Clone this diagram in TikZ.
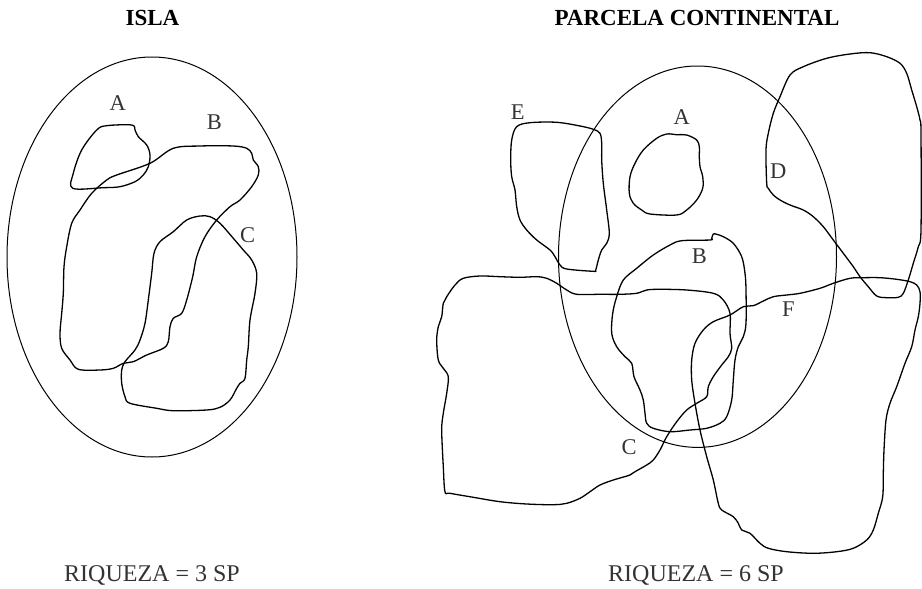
\documentclass[tikz,border=0pt]{standalone}
\usepackage{fontspec}
\setmainfont{Liberation Serif}
\begin{document}
\begin{tikzpicture}[x=1pt,y=-1pt,
  region/.style={line width=1.3pt, line join=round, smooth cycle, tension=0.55},
  border/.style={line width=1pt},
  lbl/.style={font=\fontsize{22.5}{22.5}\selectfont, text=black!80, inner sep=0pt},
  heading/.style={font=\fontsize{23}{23}\selectfont\bfseries, inner sep=0pt},
  wealth/.style={font=\fontsize{24}{24}\selectfont, text=black!80, inner sep=0pt},
]
\useasboundingbox (0,0) rectangle (922,589);

% ---------------- Island ----------------
\node[heading] (islaT) at (152.5,18) {ISLA};
\draw[border] (152,257) ellipse [x radius=145pt, y radius=200pt];

% species A
\draw[region] plot coordinates {(72.7,188.3) (73.3,173.3) (81.7,150) (96.7,130) (106.7,125.7) (131.7,125) (135,130) (138.3,136.7) (146.7,145) (150,155) (148.3,166.7) (143.3,175) (135,181.7) (120,186.7) (103.3,187.7)};
% species B
\draw[region] plot coordinates {(78.3,369.3) (70,360) (61.7,348.3) (60,333.3) (61.7,313.3) (63.3,293.3) (64,266.7) (66.7,246.7) (71.7,223.3) (80,210) (91.7,193.3) (106.7,180) (116.7,175) (150,163.3) (173.3,148.3) (200,146) (233.3,146) (246.7,148.3) (251.7,153.3) (253.3,160) (258.3,166.7) (258.3,175) (251.7,186.7) (240,200) (230,206.7) (216.7,220) (205,236.7) (196.7,256.7) (192.7,276.7) (186.7,300) (181.7,313.3) (173.3,318.3) (170,326.7) (168.3,341.7) (163.3,348.3) (146.7,355) (133.3,361.7) (123.3,363.3) (113.3,368.3) (100,370)};
% species C
\draw[region] plot coordinates {(200,216) (186.7,220) (173.3,231.7) (160,241.7) (154,253.3) (151.7,273.3) (148.3,300) (145,323.3) (140,340) (135,350) (125,361.7) (121.7,370) (121.7,383.3) (125,396.7) (130,403.3) (156.7,408.3) (173.3,410.7) (206.7,410) (220,407.3) (230,400) (236.7,388.3) (240,383.3) (245,378.3) (246.7,360) (248.3,346.7) (250,320) (255,293.3) (256.7,273.3) (251.7,260) (243.3,250) (233.3,238.3) (220,223.3) (210,216.7)};

\node[lbl] (iA) at (117.7,103.3) {A};
\node[lbl] (iB) at (214.3,121.7) {B};
\node[lbl] (iC) at (247.7,235) {C};

\node[wealth] (islaR) at (152,575) {RIQUEZA = 3 SP};

% ---------------- Mainland plot ----------------
\node[heading] (contT) at (697,18) {PARCELA CONTINENTAL};
\draw[border] (697.5,256.7) ellipse [x radius=139pt, y radius=190.7pt];

% species A
\draw[region] plot coordinates {(666.7,134) (656.7,138.3) (643.3,150) (635,163.3) (630,176.7) (629.3,193.3) (633.3,203.3) (641.7,210) (650,214) (676.7,215) (686.7,210) (696.7,200) (702.7,188.3) (702.7,176.7) (700,166.7) (699.3,156.7) (699.3,146.7) (696.7,140) (686.7,135) (676.7,134.7)};
% species B
\draw[region] plot coordinates {(713.3,234) (711.7,238.3) (710,240) (681.7,240.7) (670,245) (653.3,255) (636.7,268.3) (623.3,280) (616.7,296.7) (612.7,313.3) (611.7,333.3) (616.7,346.7) (625,356.7) (631.7,363.3) (634,376.7) (640,390) (643.3,400) (645,413.3) (646.7,423.3) (653.3,428.3) (670,431.7) (690,430) (706.7,428.3) (720,423.3) (726.7,416.7) (731.7,400) (733.3,380) (735,360) (738.3,346.7) (743.3,336.7) (746,323.3) (746,290) (745,273.3) (741.7,256.7) (733.3,243.3) (723.3,236.7) (716.7,234.3)};
% species C
\draw[region] plot coordinates {(445,491.7) (443.3,466.7) (441.7,430) (443.3,413.3) (446.7,393.3) (448.3,376.7) (443.3,368.3) (438.3,360) (436.7,340) (438.3,326.7) (441.7,316.7) (443.3,303.3) (446.7,296.7) (455,285) (463.3,278.3) (480,276) (500,276.7) (520,277.3) (536.7,276.7) (546.7,278.3) (556.7,283.3) (566.7,290) (576.7,294.3) (600,294.3) (620,294.3) (636.7,293.3) (646.7,290) (660,289.3) (686.7,290) (713.3,293.3) (723.3,300) (730,313.3) (730,333.3) (731.7,348.3) (728.3,356.7) (721.7,365) (713.3,376.7) (708.3,386.7) (706.7,396.7) (696.7,403.3) (686.7,410) (676.7,421.7) (666.7,436.7) (660,450) (653.3,460) (646.7,465) (635,471.7) (630,475) (613.3,480) (600,485) (590,491.7) (580,498.3) (566.7,503.3) (553.3,504.7) (526.7,504) (500,501.7) (473.3,497.3) (450,493.3)};
% species D
\draw[region] plot coordinates {(766.7,183.3) (766,150) (768.3,133.3) (773.3,113.3) (780,96.7) (790,75) (803.3,66.7) (826.7,58.3) (850,54) (870,52.7) (886.7,56.7) (900,63.3) (906.7,73.3) (911.7,90) (916.7,106.7) (920,120) (921,133.3) (921,230) (918.3,246.7) (913.3,263.3) (908.3,280) (903.3,293.3) (898.3,297.3) (886.7,297.7) (876.7,296) (868.3,286.7) (860,276.7) (853.3,266.7) (843.3,253.3) (833.3,240) (823.3,226.7) (813.3,216.7) (803.3,210) (790,205) (780,200) (773.3,195) (768.3,188.3)};
% species E
\draw[region] plot coordinates {(511.7,140) (516.7,126.7) (530,122.7) (556.7,122.3) (580,126) (593.3,129.3) (600,133.3) (601.7,143.3) (601.7,160) (603.3,183.3) (606.7,210) (609.3,233.3) (606.7,243.3) (601.7,250) (598.3,260) (595.7,270) (593.3,271.3) (566.7,269) (560,265) (555,256.7) (550,250) (536.7,240) (526.7,230) (520,220) (516.7,206.7) (515,190) (511.7,176.7) (510.7,160)};
% species F
\draw[region] plot coordinates {(863.3,277.7) (850,278.3) (833.3,283.3) (820,288.3) (800,293.3) (786.7,295) (773.3,296.7) (763.3,301) (753.3,305.7) (743.3,306.7) (730,315) (713.3,321.7) (703.3,330) (695,343.3) (691.7,360) (691.7,380) (695,403.3) (700,430) (706.7,456.7) (713.3,480) (718.3,503.3) (721.7,510) (733.3,516.7) (738.3,523.3) (741.7,530) (750,533.3) (760,543.3) (768.3,548.3) (786.7,551.7) (813.3,553.3) (836.7,551.7) (853.3,548.3) (866.7,540) (873.3,530) (878.3,513.3) (882.7,496.7) (883.3,473.3) (884,450) (886,420) (890,403.3) (896.7,386.7) (905,363.3) (911.7,346.7) (915,330) (918.3,316.7) (920,303.3) (920,291.7) (916.7,285) (910,281.7) (896.7,279.3) (880,277.7)};

\node[lbl] (cE) at (517.7,111.7) {E};
\node[lbl] (cA) at (681.7,117.3) {A};
\node[lbl] (cD) at (778.3,171) {D};
\node[lbl] (cB) at (699.3,256) {B};
\node[lbl] (cF) at (788.3,309.3) {F};
\node[lbl] (cC) at (629,447.3) {C};

\node[wealth] (contR) at (696,575) {RIQUEZA = 6 SP};
\end{tikzpicture}
\end{document}
